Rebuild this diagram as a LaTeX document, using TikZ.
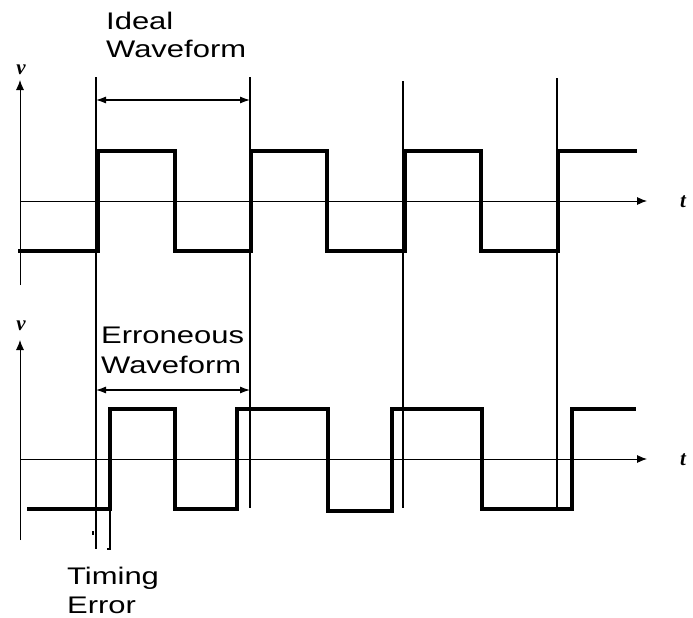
\documentclass[tikz,border=0pt]{standalone}
\usepackage{fontspec}
\setmainfont{Liberation Sans}
\newfontfamily\serifv{Liberation Serif}
\usetikzlibrary{arrows.meta}
\tikzset{
  axisline/.style={line width=0.9pt, -{Latex[length=10pt,width=8pt]}},
  marker/.style={line width=1.8pt},
  wave/.style={line width=3.4pt, line join=miter},
  span/.style={line width=1.1pt, {Latex[length=10pt,width=7pt]}-{Latex[length=10pt,width=7pt]}},
  lbl/.style={anchor=base west, inner sep=0pt, font=\fontsize{24}{27}\selectfont},
  axlbl/.style={inner sep=0pt, font=\fontsize{21}{24}\selectfont\serifv\bfseries\itshape}
}
\newcommand{\wide}[1]{\scalebox{1.29}[1]{#1}}
\begin{document}
\begin{tikzpicture}[x=1pt,y=-1pt]
\useasboundingbox[fill=white] (0,0) rectangle (693,618);
% axes
\draw[axisline] (20,285) -- (20,80);
\draw[axisline] (20,201) -- (647,201);
\draw[axisline] (20,540) -- (20,340);
\draw[axisline] (20,459) -- (647,459);
\node[axlbl] (v1) at (21,70) {v};
\node[axlbl] (v2) at (21,326) {v};
\node[axlbl, anchor=west] (t1) at (680,202) {t};
\node[axlbl, anchor=west] (t2) at (680,460) {t};
% reference vertical lines
\draw[marker] (96,77) -- (96,549);
\draw[marker] (250,77) -- (250,508);
\draw[marker] (403,81) -- (403,508);
\draw[marker] (557,78) -- (557,508);
% ideal waveform
\draw[wave] (18,251) -- (98,251) -- (98,151) -- (175,151) -- (175,251) -- (251,251)
  -- (251,151) -- (327,151) -- (327,251) -- (405,251) -- (405,151) -- (481,151)
  -- (481,251) -- (558,251) -- (558,151) -- (637,151);
% erroneous waveform
\draw[wave] (27,509) -- (110,509) -- (110,409) -- (175,409) -- (175,509) -- (237,509)
  -- (237,409) -- (328,409) -- (328,511) -- (392,511) -- (392,409) -- (482,409)
  -- (482,509) -- (572,509) -- (572,409) -- (636,409);
% timing error marks
\draw[line width=2.2pt] (110,509) -- (110,549);
\draw[line width=1.2pt] (107,549) -- (111,549);
\draw[line width=1.2pt] (93,531) -- (93,535);
% spans
\coordinate (a1) at (96,100);
\coordinate (b1) at (250,100);
\coordinate (a2) at (96,390);
\coordinate (b2) at (250,390);
\draw[span] (a1) -- (b1);
\draw[span] (a2) -- (b2);
% labels
\node[lbl] (ideal1) at (106,30) {\wide{Ideal}};
\node[lbl] (ideal2) at (106,57) {\wide{Waveform}};
\node[lbl] (err1) at (101,343) {\wide{Erroneous}};
\node[lbl] (err2) at (101,373) {\wide{Waveform}};
\node[lbl] (tim1) at (67,584) {\wide{Timing}};
\node[lbl] (tim2) at (67,613) {\wide{Error}};
\end{tikzpicture}
\end{document}
